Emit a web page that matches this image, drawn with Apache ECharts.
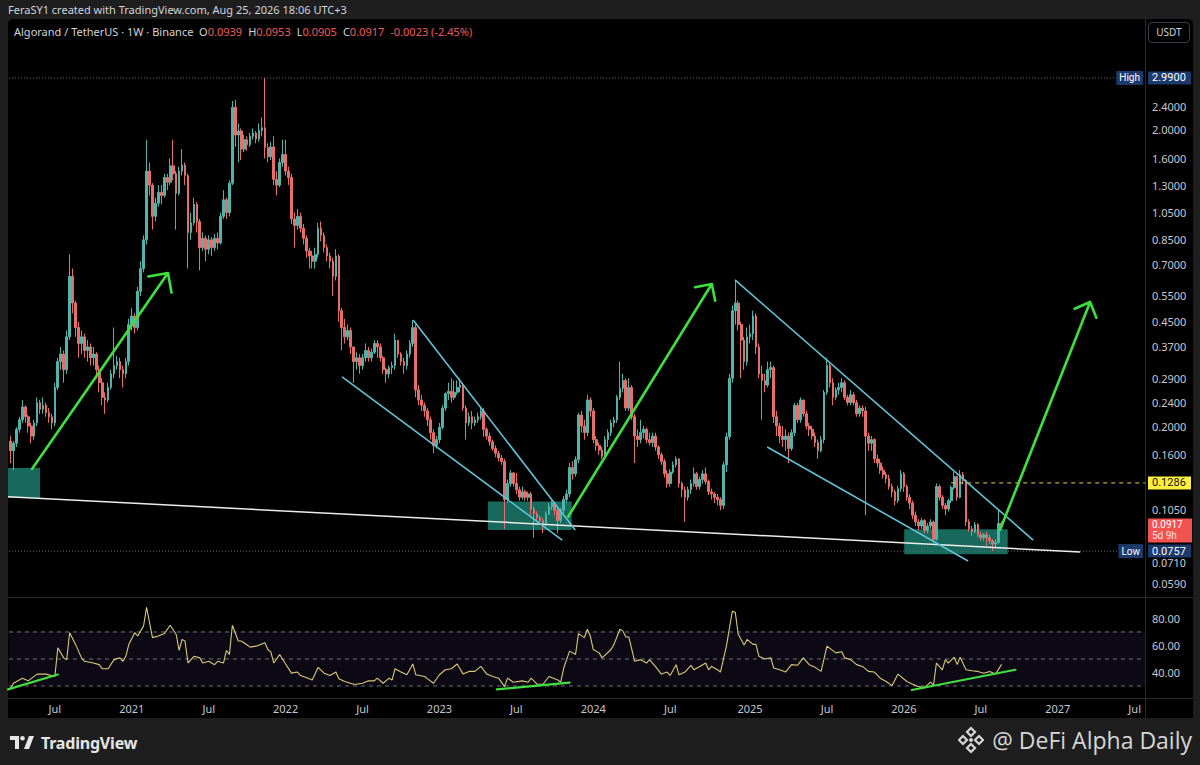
<!DOCTYPE html>
<html><head><meta charset="utf-8">
<script src="https://cdn.jsdelivr.net/npm/echarts@6/dist/echarts.min.js"></script>
<style>
html,body{margin:0;padding:0;background:#1e1e1e;}
#wrap{position:relative;width:1200px;height:765px;overflow:hidden;font-family:'Noto Sans',Roboto,sans-serif;}
#panel{position:absolute;left:8px;top:19px;width:1185px;height:699px;background:#000;border-radius:5px 5px 0 0;}
.sep{position:absolute;background:#2b2b2f;}
#chart{position:absolute;left:0;top:0;width:1200px;height:765px;}
#hdr{position:absolute;left:8px;top:2px;font-size:11px;color:#d1d4dc;white-space:nowrap;}
#legend{position:absolute;left:14px;top:24px;font-size:11px;color:#d1d4dc;white-space:nowrap;}
#legend .v{color:#f0595b;margin-right:6px;}
#usdt{position:absolute;left:1148px;top:22px;width:40px;height:19px;border:1px solid #3a3d45;border-radius:4px;color:#d1d4dc;font-size:10px;line-height:19px;text-align:center;}
#tvlogo{position:absolute;left:10px;top:733px;height:20px;display:flex;align-items:center;color:#e6e6e6;font-size:16px;font-weight:700;letter-spacing:-0.2px;}
#wm{position:absolute;right:8px;top:723px;height:34px;display:flex;align-items:center;color:#d6d6d6;font-size:23px;font-family:'Open Sans','Noto Sans',sans-serif;}
</style></head>
<body>
<div id="wrap">
  <div id="panel"></div>
  <div class="sep" style="left:8px;top:597px;width:1185px;height:1px"></div>
  <div class="sep" style="left:8px;top:698px;width:1185px;height:1px"></div>
  <div class="sep" style="left:1145px;top:19px;width:1px;height:699px"></div>
  <div id="chart"></div>
  <div id="hdr">FeraSY1 created with TradingView.com, Aug 25, 2026 18:06 UTC+3</div>
  <div id="legend">Algorand / TetherUS · 1W · Binance&nbsp; O<span class="v">0.0939</span>H<span class="v">0.0953</span>L<span class="v">0.0905</span>C<span class="v">0.0917</span><span class="v">-0.0023 (-2.45%)</span></div>
  <div id="usdt">USDT</div>
  <div id="tvlogo"><svg width="26" height="14" viewBox="0 0 26 14" style="margin-right:5px"><path d="M0 0h9v13H5V4H0z" fill="#e6e6e6"/><circle cx="12.5" cy="2.3" r="2.3" fill="#e6e6e6"/><path d="M14 13L19 0h5l-5 13z" fill="#e6e6e6"/></svg>TradingView</div>
  <div id="wm"><svg width="26" height="28" viewBox="0 0 26 28" style="margin-right:8px"><g fill="none" stroke="#d6d6d6" stroke-width="2.2"><path d="M13 2l4 4-4 4-4-4z"/><path d="M13 18l4 4-4 4-4-4z"/><path d="M5 10l4 4-4 4-4-4z"/><path d="M21 10l4 4-4 4-4-4z"/></g><circle cx="13" cy="14" r="2" fill="#d6d6d6"/></svg>@ DeFi Alpha Daily</div>
</div>
<script>
// ---------------- data ----------------
const weekStart = '2020-03-23';
const firstOpen = 0.178;
const closes = [
.165,.175,.195,.21,.232,.215,.20,.185,.205,.24,
.228,.235,.222,.215,.205,.27,.33,.35,.31,.40,
.64,.52,.43,.38,.40,.36,.37,.34,.35,.31,
.28,.25,.245,.27,.30,.32,.33,.31,.30,.33,
.44,.47,.43,.57,.68,.85,1.45,1.30,1.02,1.13,
1.23,1.20,1.38,1.33,1.51,1.42,1.22,1.45,1.52,1.40,
.90,.97,1.12,.98,.80,.86,.79,.85,.80,.86,
.83,1.02,1.16,1.05,1.32,2.38,1.92,1.98,1.72,1.85,
1.78,1.90,1.95,1.86,1.99,2.03,1.74,1.62,1.75,1.36,
1.30,1.55,1.65,1.45,1.38,1.00,.95,1.02,.93,.86,
.78,.75,.72,.76,.93,.88,.80,.75,.72,.64,
.75,.49,.43,.40,.42,.37,.33,.34,.32,.34,
.36,.34,.355,.38,.37,.34,.31,.30,.315,.32,
.39,.35,.33,.32,.35,.38,.43,.265,.245,.235,
.225,.21,.19,.172,.18,.198,.23,.257,.262,.25,
.26,.27,.275,.23,.205,.215,.205,.21,.215,.225,
.195,.185,.177,.168,.162,.156,.152,.113,.128,.139,
.128,.122,.115,.12,.115,.118,.105,.101,.098,.096,
.094,.101,.107,.11,.104,.096,.104,.113,.118,.145,
.138,.154,.218,.20,.19,.245,.225,.18,.172,.166,
.158,.18,.19,.205,.21,.25,.268,.285,.23,.27,
.215,.185,.18,.19,.195,.18,.176,.185,.17,.16,
.152,.138,.128,.14,.148,.155,.128,.122,.115,.122,
.128,.138,.125,.132,.138,.13,.12,.118,.115,.113,
.108,.148,.184,.29,.49,.52,.44,.39,.33,.40,
.41,.47,.37,.30,.285,.275,.31,.315,.215,.20,
.185,.18,.185,.168,.19,.235,.21,.245,.22,.20,
.195,.185,.176,.165,.18,.26,.32,.28,.25,.265,
.27,.28,.25,.24,.255,.24,.22,.23,.225,.185,
.175,.18,.155,.15,.142,.137,.133,.125,.12,.112,
.123,.138,.125,.115,.11,.10,.095,.092,.096,.089,
.092,.095,.083,.125,.115,.108,.105,.112,.124,.135,
.115,.137,.131,.095,.09,.088,.093,.086,.084,.086,
.084,.082,.08,.081,.0939,.0917];
const highs = [
.185,.178,.198,.215,.245,.235,.218,.205,.21,.25,
.245,.25,.24,.23,.22,.28,.34,.37,.36,.42,
.76,.68,.53,.45,.42,.41,.39,.38,.37,.355,
.32,.29,.26,.28,.31,.43,.345,.34,.32,.34,
.46,.50,.48,.59,.72,.88,1.85,1.55,1.32,1.18,
1.30,1.30,1.42,1.42,1.60,1.85,1.45,1.50,1.72,1.55,
1.42,1.05,1.18,1.14,1.00,.90,.88,.88,.87,.89,
.90,1.05,1.25,1.18,1.35,2.50,2.52,2.10,2.02,1.92,
1.90,1.95,2.02,1.98,2.10,2.20,2.99,1.80,1.82,1.90,
1.45,1.60,1.85,1.85,1.50,1.42,1.05,1.08,1.05,.96,
.88,.80,.78,.80,.97,.98,.90,.82,.77,.74,
.79,.76,.50,.46,.44,.43,.37,.355,.35,.35,
.38,.37,.365,.39,.39,.38,.345,.315,.32,.33,
.41,.39,.355,.34,.36,.39,.455,.44,.275,.255,
.24,.23,.215,.195,.185,.205,.235,.26,.28,.29,
.285,.285,.29,.28,.235,.222,.225,.215,.222,.23,
.23,.198,.19,.18,.172,.165,.16,.155,.132,.142,
.14,.139,.125,.125,.122,.12,.12,.107,.103,.10,
.098,.103,.11,.112,.111,.106,.106,.116,.122,.15,
.152,.158,.222,.225,.21,.255,.25,.23,.185,.176,
.17,.185,.195,.21,.215,.255,.33,.30,.29,.29,
.275,.22,.195,.21,.20,.198,.19,.19,.19,.172,
.163,.155,.142,.143,.152,.158,.156,.13,.125,.125,
.132,.145,.14,.135,.142,.145,.132,.123,.12,.118,
.115,.152,.19,.30,.51,.62,.53,.45,.40,.43,
.44,.49,.48,.38,.32,.30,.33,.33,.32,.225,
.205,.20,.195,.19,.195,.24,.24,.25,.245,.225,
.205,.20,.19,.18,.185,.265,.34,.325,.29,.27,
.28,.29,.285,.255,.265,.26,.245,.235,.235,.232,
.19,.185,.182,.16,.155,.146,.14,.137,.128,.122,
.126,.142,.14,.127,.118,.112,.103,.097,.098,.097,
.094,.097,.096,.128,.127,.117,.11,.114,.126,.14,
.136,.142,.14,.132,.097,.092,.095,.094,.088,.087,
.088,.086,.083,.083,.104,.0953];
const lows = [
.150,.142,.170,.19,.205,.205,.19,.175,.18,.20,
.22,.22,.215,.205,.195,.20,.265,.31,.28,.30,
.39,.48,.40,.34,.35,.34,.33,.32,.32,.29,
.26,.235,.22,.24,.265,.29,.31,.29,.27,.29,
.32,.42,.41,.42,.55,.66,.82,1.20,.92,.98,
1.10,1.12,1.18,1.25,1.30,1.35,.92,1.20,1.40,1.30,
.68,.85,.95,.90,.67,.78,.72,.76,.75,.78,
.79,.82,1.00,1.00,1.02,1.30,1.75,1.55,1.58,1.68,
1.70,1.75,1.85,1.80,1.82,1.90,1.60,1.55,1.58,1.30,
1.20,1.28,1.50,1.40,1.30,.96,.80,.92,.90,.82,
.74,.68,.68,.68,.74,.84,.77,.72,.68,.55,
.62,.45,.36,.38,.39,.35,.28,.31,.30,.31,
.33,.33,.33,.35,.34,.33,.30,.28,.29,.30,
.31,.34,.32,.30,.31,.34,.37,.25,.235,.225,
.215,.20,.18,.162,.168,.175,.195,.225,.245,.24,
.245,.255,.26,.225,.18,.20,.195,.20,.205,.21,
.184,.18,.172,.165,.157,.152,.148,.09,.11,.125,
.125,.118,.112,.113,.112,.112,.10,.084,.095,.093,
.087,.092,.10,.104,.10,.087,.094,.10,.11,.115,
.132,.135,.15,.19,.18,.185,.215,.175,.165,.16,
.155,.155,.17,.185,.198,.205,.245,.26,.225,.225,
.21,.15,.17,.175,.182,.175,.172,.17,.165,.155,
.148,.134,.124,.125,.138,.145,.124,.115,.095,.112,
.118,.125,.122,.122,.128,.127,.117,.113,.11,.108,
.104,.105,.14,.18,.28,.44,.42,.29,.31,.32,
.38,.39,.35,.29,.21,.26,.27,.29,.205,.185,
.175,.17,.165,.15,.165,.185,.205,.205,.215,.195,
.185,.18,.17,.155,.163,.175,.255,.27,.235,.245,
.255,.26,.245,.235,.235,.235,.215,.215,.215,.10,
.165,.165,.15,.145,.138,.133,.128,.122,.115,.108,
.11,.12,.12,.112,.105,.097,.092,.089,.09,.087,
.087,.09,.081,.082,.112,.105,.10,.103,.11,.122,
.112,.114,.127,.092,.088,.085,.087,.084,.082,.082,
.079,.08,.0757,.078,.08,.0905];
// RSI(14) readings: [week index, value]
const rsiPoints = [
[0,28.3],[1,32],[4,35.8],[6,33.8],[9,38.8],[12,38.8],[15,37],[16,58.3],[18,50.8],[19,49.5],
[20,69.5],[22,60.8],[24,50.8],[25,48.3],[28,47],[30,45.8],[31,42.8],[33,42.8],[35,49.5],[37,50.8],
[38,48.3],[39,52],[40,60.8],[42,69.5],[43,67],[45,74.5],[46,88.3],[48,65.8],[50,67],[52,68.8],
[54,75],[56,68.3],[57,56.3],[58,64.5],[59,63.3],[60,47],[62,52],[64,50.8],[65,47],[67,48.3],
[69,45.8],[70,48.3],[72,47],[73,56.3],[74,53.3],[75,75],[77,63.3],[78,63.3],[80,60.3],[81,58.8],
[83,59.5],[86,62],[87,57],[88,55.3],[89,47],[91,53.3],[93,46.3],[95,39.5],[97,40.3],[98,37.8],
[100,36.3],[102,34.5],[104,43.8],[106,39.5],[108,37.8],[110,40.3],[111,35.3],[113,33.3],[116,31.3],[117,31.3],
[119,32],[121,33.8],[123,33.8],[124,35.8],[126,32],[128,35.8],[129,34.5],[130,42.8],[132,40.3],[134,38.3],
[136,46.3],[137,38.3],[140,37],[141,35.3],[143,32],[145,38.3],[147,42],[149,42.8],[151,46.3],[153,38.8],
[155,40.8],[157,40.8],[159,44.5],[161,38.8],[163,37],[165,35.8],[167,29.5],[168,35.8],[170,32.8],[173,33.8],
[175,32.8],[176,35.8],[178,31.3],[180,31.3],[182,37],[185,34.5],[186,32.8],[187,43.3],[189,55.8],[191,53.3],
[192,68.8],[194,65.8],[195,72],[196,67],[197,57],[199,54.5],[200,50.8],[203,57],[204,60.8],[206,72],
[207,70.8],[208,66.3],[209,66.3],[211,48.3],[213,49.5],[215,47],[216,49.5],[218,44.5],[220,38.8],[222,40.3],
[223,37.8],[225,45.8],[226,38.3],[228,40.3],[230,45.3],[231,42],[233,44.5],[235,47],[236,42],[237,44.5],
[239,42],[240,40.3],[242,59.5],[244,85.3],[245,84.5],[246,68.3],[248,60.3],[249,64.5],[251,60.8],[252,60.8],
[253,52],[255,50],[257,50.8],[258,43.3],[260,42],[262,40.3],[264,45.8],[266,45.3],[268,50.8],[270,45.8],
[272,43.8],[274,40.8],[276,59.5],[279,54.5],[281,55.3],[282,50.8],[284,49.5],[286,45.8],[288,44.5],[290,40.8],
[292,40.3],[294,35.8],[296,33.3],[298,30.3],[300,38.8],[303,33.3],[305,31.3],[307,29.5],[309,28.8],[311,32.8],
[312,30.5],[313,47],[315,42],[316,49.5],[317,47],[319,51.3],[320,45.8],[321,51.3],[323,42],[325,41.3],
[327,40.8],[329,39.5],[331,40.8],[333,38.8],[335,46]];
// tick labels (0.13 and 0.085 sit under the tags and are not shown)
const priceTicks = [2.4,2.0,1.6,1.3,1.05,0.85,0.70,0.55,0.45,0.37,0.29,0.24,0.20,0.16,0.105,0.071,0.059];
const rsiTicks = [80,60,40];
const timeTickLabels = ['Jul','2021','Jul','2022','Jul','2023','Jul','2024','Jul','2025','Jul','2026','Jul','2027','Jul'];
const timeTickDates = ['2020-07-01','2021-01-01','2021-07-01','2022-01-01','2022-07-01','2023-01-01','2023-07-01','2024-01-01','2024-07-01','2025-01-01','2025-07-01','2026-01-01','2026-07-01','2027-01-01','2027-07-01'];
// price-axis tags
const highLevel = 2.99, lowLevel = 0.0757, markLevel = 0.1286, lastPrice = 0.0917, countdown = '5d 9h';
// drawings (week index, price)
const trendWhite = [[-0.84,0.1155],[361.6,0.0752]];
const channelLines = [
  [[136.1,0.456],[190.9,0.0892]],
  [[112.1,0.2929],[186.5,0.0825]],
  [[244.9,0.6224],[345.7,0.0825]],
  [[255.8,0.170],[323.7,0.0701]]];
const arrows = [
  [[7.28,0.1433],[53.25,0.6572],[46.6,0.6395],[53.25,0.6572],[54.44,0.5639]],
  [[188.5,0.0989],[237.06,0.6033],[231.4,0.5881],[237.06,0.6033],[238.2,0.530]],
  [[334.5,0.0892],[364.95,0.5246],[359.7,0.4976],[364.95,0.5246],[367.05,0.464]]];
const zones = [[-0.84,0.1444,10.0,0.1144],[161.4,0.1112,189.7,0.0892],[302.1,0.0897,337.1,0.0739]];
const rsiTrendLines = [[[-0.85,27.5],[16,38.5]],[[164.4,27.5],[189,32.5]],[[304.7,27],[339.7,42]]];
const rsiBands = [70,50,30];
const markLineStart = 318;
const levelLineEnd = 375.1;

// ---------------- build ----------------
const SLOTS = 384;
const L = Math.log10;
const DAY = 864e5;
const t0 = Date.parse(weekStart);
const tickIdx = timeTickDates.map(d => Math.ceil((Date.parse(d) - t0) / (7 * DAY)));
const tickLabelOf = {};
tickIdx.forEach((v, k) => { tickLabelOf[v] = timeTickLabels[k]; });

const candles = closes.map((c, i) => {
  const o = i === 0 ? firstOpen : closes[i - 1];
  const h = Math.max(highs[i], o, c), l = Math.min(lows[i], o, c);
  return [i, L(o), L(c), L(l), L(h)];
});
const toLog = pts => pts.map(p => [p[0], L(p[1])]);

const yMin = L(0.0530), yMax = L(4.69);
const labelColor = '#c5c8d0';
const fontFamily = "'Noto Sans', Roboto, sans-serif";
const tagFont = 'Roboto, sans-serif';

function xAxis(gridIndex, show) {
  return { type: 'value', gridIndex, min: -0.5, max: SLOTS - 0.5,
    axisLine: { show: false }, axisTick: { show: false }, splitLine: { show: false },
    axisLabel: { show, customValues: tickIdx, formatter: v => tickLabelOf[v] || '', color: labelColor, fontSize: 11, margin: 6, fontFamily } };
}
function priceAxis(extra) {
  return Object.assign({ type: 'value', gridIndex: 0, position: 'right', min: yMin, max: yMax,
    axisLine: { show: false }, axisTick: { show: false }, splitLine: { show: false } }, extra);
}
const tagDefs = [
  { v: highLevel, s: '{hl|' + highLevel.toFixed(4) + '}' },
  { v: markLevel, s: '{yl|' + markLevel.toFixed(4) + '}' },
  { v: lowLevel, s: '{hl|' + lowLevel.toFixed(4) + '}' }];
function nearestTag(v) {
  let best = tagDefs[0];
  tagDefs.forEach(t => { if (Math.abs(L(t.v) - v) < Math.abs(L(best.v) - v)) best = t; });
  return best;
}
// tick text: the 0.0710 tick sits just under the Low tag, nudged below it
function tickText(v) {
  const p = Math.pow(10, v);
  const s = p.toFixed(4);
  return Math.abs(p - 0.071) < 1e-9 ? '{low|' + s + '}' : s;
}

const lineBase = (data, color, width, extra) => Object.assign({
  type: 'line', xAxisIndex: 0, yAxisIndex: 0, data, symbol: 'none', silent: true,
  lineStyle: { color, width }, z: 4, animation: false }, extra || {});

const series = [];
// zone boxes
series.push({ type: 'custom', xAxisIndex: 0, yAxisIndex: 0, z: 1, silent: true,
  data: zones.map(z => [z[0], L(z[1]), z[2], L(z[3])]),
  encode: { x: [0, 2], y: [1, 3] },
  renderItem: (params, api) => {
    const a = api.coord([api.value(0), api.value(1)]);
    const b = api.coord([api.value(2), api.value(3)]);
    return { type: 'rect', shape: { x: Math.min(a[0], b[0]), y: Math.min(a[1], b[1]), width: Math.abs(b[0] - a[0]), height: Math.abs(b[1] - a[1]) },
      style: { fill: '#16695b' } };
  } });
// candles
series.push({ type: 'candlestick', xAxisIndex: 0, yAxisIndex: 0, data: candles, z: 2,
  dimensions: ['idx', 'open', 'close', 'lowest', 'highest'],
  encode: { x: 0, y: [1, 2, 3, 4] }, barWidth: 2.2, silent: true,
  itemStyle: { color: '#4fb5aa', color0: '#e86e6b', borderColor: '#4fb5aa', borderColor0: '#e86e6b', borderWidth: 1 } });
// level lines
series.push(lineBase(toLog([[-0.5, highLevel], [levelLineEnd, highLevel]]), '#6a6d75', 1, { lineStyle: { color: '#6a6d75', width: 1, type: [1, 2] }, z: 3 }));
series.push(lineBase(toLog([[-0.5, lowLevel], [levelLineEnd, lowLevel]]), '#6a6d75', 1, { lineStyle: { color: '#6a6d75', width: 1, type: [1, 2] }, z: 3 }));
series.push(lineBase(toLog([[markLineStart, markLevel], [SLOTS - 0.5, markLevel]]), '#e8d44d', 1, { lineStyle: { color: '#e8d44d', width: 1, type: [4, 4] }, z: 3 }));
// drawings
series.push(lineBase(toLog(trendWhite), '#ececec', 1.5));
channelLines.forEach(c => series.push(lineBase(toLog(c), '#62c3d8', 1.6)));
arrows.forEach(a => series.push(lineBase(toLog(a), '#3ee03e', 2.6, { lineStyle: { color: '#3ee03e', width: 2.6, cap: 'round', join: 'round' }, z: 5 })));
// RSI
series.push({ type: 'custom', xAxisIndex: 1, yAxisIndex: 3, z: 1, silent: true, data: [[-0.5, rsiBands[0], SLOTS - 0.5, rsiBands[2]]],
  encode: { x: [0, 2], y: [1, 3] },
  renderItem: (params, api) => {
    const a = api.coord([api.value(0), api.value(1)]);
    const b = api.coord([api.value(2), api.value(3)]);
    return { type: 'rect', shape: { x: a[0], y: a[1], width: b[0] - a[0], height: b[1] - a[1] }, style: { fill: 'rgba(126,87,194,0.10)' } };
  } });
rsiBands.forEach(b => series.push({ type: 'line', xAxisIndex: 1, yAxisIndex: 3, data: [[-0.5, b], [SLOTS - 0.5, b]], symbol: 'none', silent: true, z: 2,
  lineStyle: { color: '#6f727b', width: 1, type: [4, 4] } }));
series.push({ type: 'line', xAxisIndex: 1, yAxisIndex: 3, data: rsiPoints, symbol: 'none', silent: true, z: 3,
  lineStyle: { color: '#d9c977', width: 1.1 } });
rsiTrendLines.forEach(l => series.push({ type: 'line', xAxisIndex: 1, yAxisIndex: 3, data: l, symbol: 'none', silent: true, z: 4,
  lineStyle: { color: '#3ee03e', width: 2.2, cap: 'round' } }));

const option = {
  animation: false,
  backgroundColor: 'transparent',
  textStyle: { fontFamily },
  grid: [
    { left: 9, right: 55, top: 20, bottom: 168 },
    { left: 9, right: 55, top: 599, bottom: 68 }],
  xAxis: [xAxis(0, false), xAxis(1, true)],
  yAxis: [
    priceAxis({ axisLabel: { customValues: priceTicks.map(L), formatter: tickText, color: labelColor, fontSize: 11, margin: 7, fontFamily,
      rich: { low: { color: labelColor, fontSize: 11, fontFamily: tagFont, padding: [9, 0, 0, 0] } } } }),
    priceAxis({ z: 10, axisLabel: { customValues: tagDefs.map(t => L(t.v)), formatter: v => nearestTag(v).s, margin: 3, fontFamily: tagFont,
      rich: {
        hl: { backgroundColor: '#1d3a6c', color: '#ffffff', fontSize: 11, fontFamily: tagFont, padding: [1, 4, 1, 4], width: 35, lineHeight: 12 },
        yl: { backgroundColor: '#fff03f', color: '#111111', fontSize: 11, fontFamily: tagFont, padding: [1, 4, 1, 4], width: 35, lineHeight: 12 } } } }),
    priceAxis({ z: 10, axisLabel: { inside: true, customValues: [L(highLevel), L(lowLevel)], margin: 2, fontFamily: tagFont,
      formatter: v => Math.abs(v - L(highLevel)) < 1e-9 ? 'High' : 'Low',
      backgroundColor: '#1d3a6c', color: '#ffffff', fontSize: 10, padding: [1, 3, 1, 3], lineHeight: 12 } }),
    { type: 'value', gridIndex: 1, position: 'right', min: 21.85, max: 94.4,
      axisLine: { show: false }, axisTick: { show: false }, splitLine: { show: false },
      axisLabel: { customValues: rsiTicks, formatter: v => v.toFixed(2), color: labelColor, fontSize: 11, margin: 7, fontFamily } },
    priceAxis({ z: 11, axisLabel: { customValues: [L(lastPrice)], margin: 3, fontFamily: tagFont, padding: [8, 0, 0, 0],
      formatter: () => '{cr|' + lastPrice.toFixed(4) + '}\n{cr2|' + countdown + '}',
      rich: {
        cr: { backgroundColor: '#f05350', color: '#ffffff', fontSize: 10, fontFamily: tagFont, padding: [1, 4, 1, 4], width: 36, height: 11, lineHeight: 11 },
        cr2: { backgroundColor: '#f05350', color: '#ffe1e1', fontSize: 10, fontFamily: tagFont, padding: [1, 4, 1, 4], width: 36, height: 11, lineHeight: 11 } } } })],
  series
};
const chart = echarts.init(document.getElementById('chart'), null, { renderer: 'svg' });
chart.setOption(option);
</script>
</body></html>
